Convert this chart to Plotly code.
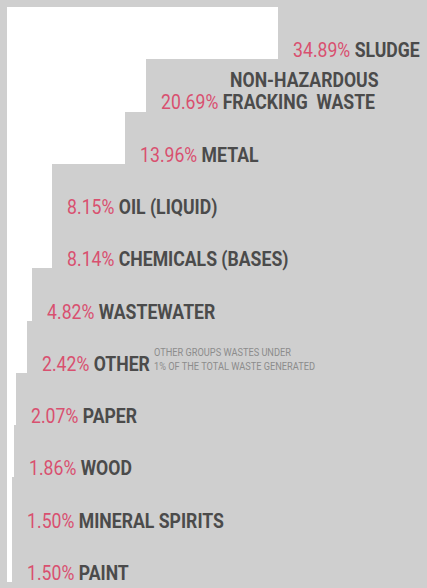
import plotly.graph_objects as go

# Waste streams, top to bottom
categories = [
    "SLUDGE",
    "NON-HAZARDOUS<br>FRACKING\u00a0 WASTE",
    "METAL",
    "OIL (LIQUID)",
    "CHEMICALS (BASES)",
    "WASTEWATER",
    "OTHER",
    "PAPER",
    "WOOD",
    "MINERAL SPIRITS",
    "PAINT",
]
# Share of total waste generated (%)
shares = [34.89, 20.69, 13.96, 8.15, 8.14, 4.82, 2.42, 2.07, 1.86, 1.50, 1.50]
# Reach of each grey step across the panel (% of width)
stair_reach = [35.5, 66.9, 71.9, 89.3, 89.3, 94.0, 95.2, 97.9, 98.3, 98.8, 98.8]
# Footnotes attached to a category
notes = {"OTHER": "OTHER GROUPS WASTES UNDER<br>1% OF THE TOTAL WASTE GENERATED"}

GREY = "#cfcfcf"
PINK = "#d9506f"
DARK = "#4b4b4b"
FONT = "Roboto, Liberation Sans, sans-serif"

fig = go.Figure(
    go.Bar(
        y=categories,
        x=stair_reach,
        orientation="h",
        marker=dict(color=GREY, line=dict(width=0)),
        width=1.0,
        hoverinfo="skip",
    )
)

annotations = []
for cat, share, reach in zip(categories, shares, stair_reach):
    lines = cat.split("<br>")
    annotations.append(dict(
        x=reach, y=cat, xref="x", yref="y",
        xanchor="left", yanchor="middle",
        xshift=13, yshift=-17,
        showarrow=False,
        text=f'<span style="color:{PINK}">{share:.2f}%</span> <b>{lines[-1]}</b>',
        font=dict(family=FONT, size=21, color=DARK),
    ))
    if len(lines) > 1:
        annotations.append(dict(
            x=reach, y=cat, xref="x", yref="y",
            xanchor="left", yanchor="middle",
            xshift=82, yshift=5,
            showarrow=False,
            text="<b>" + "<br>".join(lines[:-1]) + "</b>",
            font=dict(family=FONT, size=21, color=DARK),
        ))
    if cat in notes:
        annotations.append(dict(
            x=reach, y=cat, xref="x", yref="y",
            xanchor="left", yanchor="middle", align="left",
            xshift=125, yshift=-13,
            showarrow=False,
            text=notes[cat],
            font=dict(family=FONT, size=11, color="#8c8c8c"),
        ))

fig.update_layout(
    width=427, height=588,
    margin=dict(l=7, r=0, t=7, b=6, pad=0),
    paper_bgcolor=GREY,
    plot_bgcolor="white",
    bargap=0,
    showlegend=False,
    xaxis=dict(range=[100, 0], visible=False, fixedrange=True),
    yaxis=dict(range=[len(categories) - 0.5, -0.5], visible=False, fixedrange=True),
    annotations=annotations,
)

# Narrow the label lettering to a condensed poster style
condense = """
var st = document.createElement('style');
st.textContent = '.annotation-text{transform:scaleX(0.84);transform-box:fill-box;transform-origin:left center;}';
document.head.appendChild(st);
"""

fig.write_html("out.html", config={"displayModeBar": False}, post_script=condense)
